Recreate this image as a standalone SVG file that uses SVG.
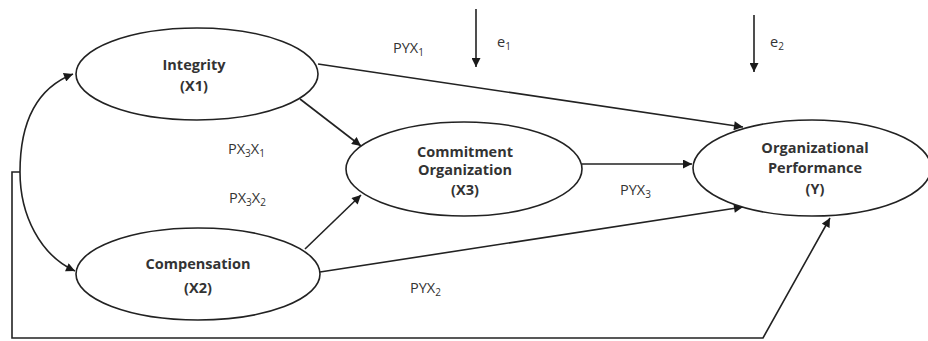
<svg xmlns="http://www.w3.org/2000/svg" width="928" height="341" viewBox="0 0 928 341">
<defs>
<marker id="ahs" viewBox="0 0 10 10" refX="10" refY="5" markerWidth="10" markerHeight="9" orient="auto-start-reverse" markerUnits="userSpaceOnUse">
<path d="M0,0 L10,5 L0,10 z" fill="#1a1a1a"/>
</marker>
</defs>
<style>
.node ellipse{fill:#fff;stroke:#222;stroke-width:1.6}
.nt{font-family:"Open Sans","Liberation Sans",sans-serif;font-weight:bold;font-size:14.5px;fill:#333;text-anchor:middle}
.lb{font-family:"Open Sans","Liberation Sans",sans-serif;font-size:14.5px;fill:#333}
.sub{font-size:10px}
.c{fill:none;stroke:#222;stroke-width:1.6}
</style>
<rect width="928" height="341" fill="#fff"/>
<g id="connectors">
<path class="c" d="M318,64 L743,127" marker-end="url(#ahs)"/>
<path class="c" d="M300,99 L361,146" marker-end="url(#ahs)"/>
<path class="c" d="M305,249 L361,195" marker-end="url(#ahs)"/>
<path class="c" d="M320,272 L743,207" marker-end="url(#ahs)"/>
<path class="c" d="M582,164 L692,164" marker-end="url(#ahs)"/>
<path class="c" d="M73,74 C32,90 20,130 20,172 C20,215 40,255 75,271" marker-start="url(#ahs)" marker-end="url(#ahs)"/>
<path class="c" d="M20,172 H12 V338 H763 L830,218" marker-end="url(#ahs)"/>
<path class="c" d="M476,9 V67" marker-end="url(#ahs)"/>
<path class="c" d="M754,15 V72" marker-end="url(#ahs)"/>
</g>
<g id="labels">
<text class="lb" x="393" y="53">PYX<tspan class="sub" dy="3">1</tspan></text>
<text class="lb" x="497" y="47">e<tspan class="sub" dy="3">1</tspan></text>
<text class="lb" x="770" y="47">e<tspan class="sub" dy="3">2</tspan></text>
<text class="lb" x="228" y="154">PX<tspan class="sub" dy="3">3</tspan><tspan dy="-3">X</tspan><tspan class="sub" dy="3">1</tspan></text>
<text class="lb" x="229" y="203">PX<tspan class="sub" dy="3">3</tspan><tspan dy="-3">X</tspan><tspan class="sub" dy="3">2</tspan></text>
<text class="lb" x="620" y="195">PYX<tspan class="sub" dy="3">3</tspan></text>
<text class="lb" x="410" y="293">PYX<tspan class="sub" dy="3">2</tspan></text>
</g>
<g id="integrity" class="node">
<ellipse cx="197" cy="74" rx="121" ry="46"/>
<text class="nt" x="194" y="70">Integrity</text>
<text class="nt" x="194" y="91">(X1)</text>
</g>
<g id="compensation" class="node">
<ellipse cx="198" cy="274" rx="122" ry="46"/>
<text class="nt" x="198" y="269">Compensation</text>
<text class="nt" x="198" y="293">(X2)</text>
</g>
<g id="commitment" class="node">
<ellipse cx="464" cy="169" rx="118" ry="47"/>
<text class="nt" x="465" y="157">Commitment</text>
<text class="nt" x="465" y="175">Organization</text>
<text class="nt" x="465" y="195">(X3)</text>
</g>
<g id="performance" class="node">
<ellipse cx="812" cy="168" rx="119" ry="48"/>
<text class="nt" x="815" y="153">Organizational</text>
<text class="nt" x="815" y="173">Performance</text>
<text class="nt" x="815" y="194">(Y)</text>
</g>
</svg>
